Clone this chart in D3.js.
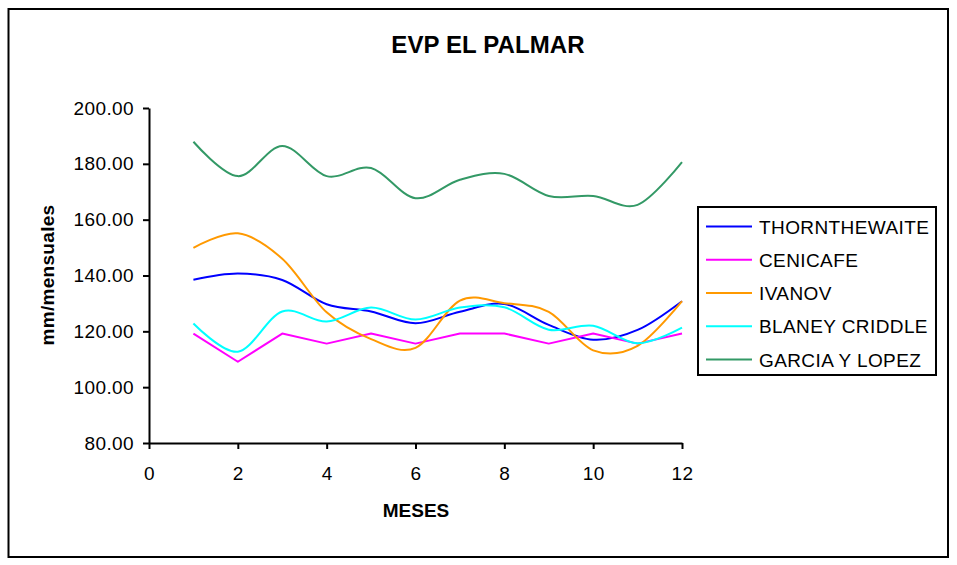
<!DOCTYPE html>
<html>
<head>
<meta charset="utf-8">
<script src="https://cdn.jsdelivr.net/npm/d3@7"></script>
<style>
  body { margin: 0; background: #fff; }
  text { font-family: "Liberation Sans", Arial, sans-serif; fill: #000; }
</style>
</head>
<body>
<svg id="chart" width="957" height="565"></svg>
<script>
// Monthly evapotranspiration estimates (mm/month), EVP El Palmar
const months = [1, 2, 3, 4, 5, 6, 7, 8, 9, 10, 11, 12];
const thornthewaite = [138.5, 140.7, 138.4, 129.7, 127.1, 122.9, 127.0, 129.8, 122.3, 117.0, 120.5, 130.8];
const cenicafe      = [119.2, 109.1, 119.2, 115.6, 119.2, 115.6, 119.2, 119.2, 115.6, 119.2, 115.6, 119.2];
const ivanov        = [149.9, 155.1, 146.0, 126.8, 117.2, 114.1, 131.0, 130.1, 127.0, 113.2, 114.8, 130.8];
const blaneyCriddle = [122.8, 112.7, 127.1, 123.5, 128.5, 124.2, 128.5, 128.6, 120.6, 122.0, 115.7, 121.3];
const garciaLopez   = [187.9, 175.6, 186.4, 175.6, 178.5, 167.7, 174.3, 176.4, 168.5, 168.5, 165.3, 180.6];

const seriesNames  = ["THORNTHEWAITE", "CENICAFE", "IVANOV", "BLANEY CRIDDLE", "GARCIA Y LOPEZ"];
const seriesValues = [thornthewaite, cenicafe, ivanov, blaneyCriddle, garciaLopez];
const seriesColors = ["#0000FF", "#FF00FF", "#FF9900", "#00FFFF", "#339966"];
const seriesSmooth = [true, false, true, true, true];

const xTicks = [0, 2, 4, 6, 8, 10, 12];
const yTicks = [80, 100, 120, 140, 160, 180, 200];

const titleText = "EVP EL PALMAR";
const xTitle = "MESES";
const yTitle = "mm/mensuales";

const svg = d3.select("#chart");

// outer frame
svg.append("rect")
  .attr("x", 8.5).attr("y", 9).attr("width", 939.5).attr("height", 548)
  .attr("fill", "#fff").attr("stroke", "#000").attr("stroke-width", 2);

const x = d3.scaleLinear().domain([0, 12]).range([149, 682]);
const y = d3.scaleLinear().domain([80, 200]).range([443, 108]);

const labelFont = "19px";

// y axis
const yAxis = svg.append("g")
  .attr("transform", `translate(${x(0)},0)`)
  .call(d3.axisLeft(y).tickValues(yTicks).tickFormat(d3.format(".2f"))
    .tickSize(6).tickSizeOuter(0).tickPadding(9));
yAxis.select(".domain").attr("stroke-width", 2);
yAxis.selectAll(".tick line").attr("stroke-width", 2);
yAxis.selectAll(".tick text").attr("font-size", labelFont).attr("letter-spacing", "0.4px")
  .attr("font-family", "Liberation Sans, Arial, sans-serif").attr("fill", "#000");

// x axis
const xAxis = svg.append("g")
  .attr("transform", `translate(0,${y(80)})`)
  .call(d3.axisBottom(x).tickValues(xTicks).tickFormat(d3.format("d"))
    .tickSize(6).tickSizeOuter(0).tickPadding(18));
xAxis.select(".domain").attr("stroke-width", 2);
xAxis.selectAll(".tick line").attr("stroke-width", 2);
xAxis.selectAll(".tick text").attr("font-size", labelFont).attr("letter-spacing", "0.4px")
  .attr("font-family", "Liberation Sans, Arial, sans-serif").attr("fill", "#000");

// series lines
seriesValues.forEach((vals, i) => {
  const line = d3.line()
    .x((d, j) => x(months[j]))
    .y(d => y(d))
    .curve(seriesSmooth[i] ? d3.curveCardinal.tension(0) : d3.curveLinear);
  svg.append("path")
    .datum(vals)
    .attr("d", line)
    .attr("fill", "none")
    .attr("stroke", seriesColors[i])
    .attr("stroke-width", 2)
    .attr("stroke-linejoin", "round");
});

// titles
svg.append("text")
  .attr("x", 488).attr("y", 53)
  .attr("text-anchor", "middle")
  .attr("font-size", "24px").attr("font-weight", "bold").attr("letter-spacing", "0.1px")
  .text(titleText);

svg.append("text")
  .attr("x", 416).attr("y", 517)
  .attr("text-anchor", "middle")
  .attr("font-size", labelFont).attr("font-weight", "bold")
  .text(xTitle);

svg.append("text")
  .attr("transform", "translate(54,275) rotate(-90)")
  .attr("text-anchor", "middle")
  .attr("font-size", labelFont).attr("font-weight", "bold").attr("letter-spacing", "0.3px")
  .text(yTitle);

// legend
const legend = svg.append("g");
legend.append("rect")
  .attr("x", 698).attr("y", 207).attr("width", 238).attr("height", 168)
  .attr("fill", "#fff").attr("stroke", "#000").attr("stroke-width", 2);

const legendRows = d3.scaleLinear().domain([0, 4]).range([226.5, 359.5]);
seriesNames.forEach((name, i) => {
  const gy = legendRows(i);
  legend.append("line")
    .attr("x1", 706).attr("x2", 752).attr("y1", gy).attr("y2", gy)
    .attr("stroke", seriesColors[i]).attr("stroke-width", 2);
  legend.append("text")
    .attr("x", 759).attr("y", gy + 7)
    .attr("font-size", labelFont).attr("letter-spacing", "0.4px")
    .text(name);
});
</script>
</body>
</html>
